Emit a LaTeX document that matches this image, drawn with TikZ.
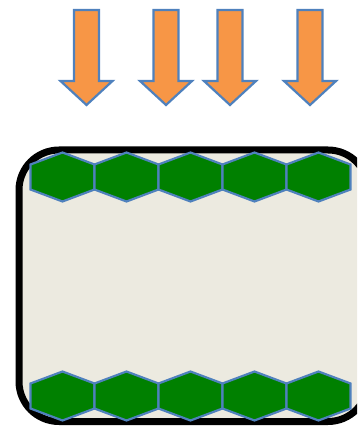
\documentclass[tikz,border=0pt]{standalone}
\usetikzlibrary{calc}
\definecolor{paneFill}{RGB}{236,234,224}
\definecolor{hexGreen}{RGB}{0,128,0}
\definecolor{edgeBlue}{RGB}{79,129,189}
\definecolor{arrowOrange}{RGB}{247,150,70}
\tikzset{
  downarrow/.style={fill=arrowOrange, draw=edgeBlue, line width=2.2pt, line join=miter},
  hexcell/.style={fill=hexGreen, draw=edgeBlue, line width=2.2pt, line join=miter},
  pane/.style={fill=paneFill, draw=black, line width=7pt, rounded corners=40pt}
}
% one downward block arrow centred at x=#1
\newcommand{\downArrow}[1]{%
  \draw[downarrow] (#1-12.5,10) -- (#1+12.5,10) -- (#1+12.5,81) -- (#1+26,81)
    -- (#1,105) -- (#1-26,81) -- (#1-12.5,81) -- cycle;}
% one flattened hexagon centred at (#1,#2)
\newcommand{\hexCell}[2]{%
  \draw[hexcell] (#1,#2-24.5) -- (#1+32,#2-12.5) -- (#1+32,#2+12.5)
    -- (#1,#2+24.5) -- (#1-32,#2+12.5) -- (#1-32,#2-12.5) -- cycle;}
\begin{document}
\begin{tikzpicture}[x=1pt,y=-1pt]
  \useasboundingbox (0,0) rectangle (357,427);
  \clip (0,0) rectangle (357,427);
  % incoming arrows
  \foreach \ax in {86.5,166,230,310} {\downArrow{\ax}}
  % container, running past the right edge
  \draw[pane] (19,150) rectangle (368,421.5);
  % top and bottom rows of cells
  \foreach \cx in {62.5,126.5,190.5,254.5,318.5} {
    \hexCell{\cx}{177}
    \hexCell{\cx}{396}
  }
\end{tikzpicture}
\end{document}
